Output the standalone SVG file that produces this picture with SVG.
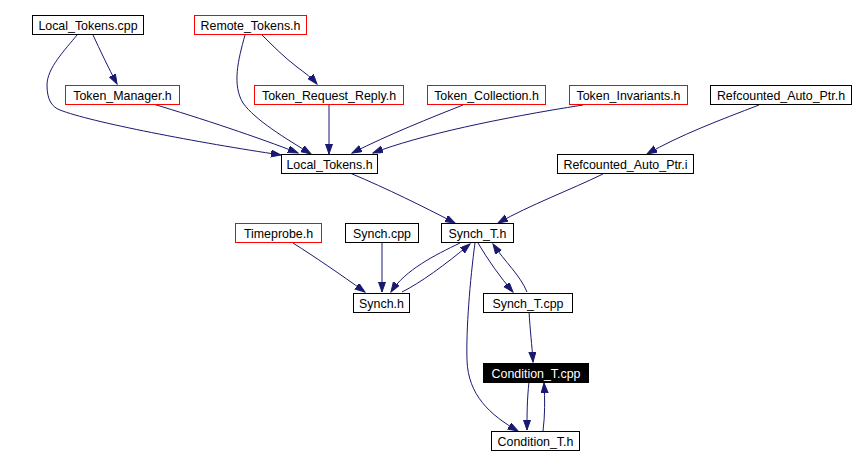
<svg xmlns="http://www.w3.org/2000/svg" width="865" height="465" viewBox="0 0 865 465">
<style>
.n rect{fill:#fff;stroke:#000;stroke-width:1}
.n.r rect{stroke:#ff0000}
.n.b rect{fill:#000}
.n text{font-family:"Liberation Sans",Arial,Helvetica,sans-serif;font-size:12.4px;text-anchor:middle;fill:#000}
.n.b text{fill:#fff}
#edges path{fill:none;stroke:#191970;stroke-width:1;marker-end:url(#ah)}
</style>
<defs>
<marker id="ah" markerUnits="userSpaceOnUse" markerWidth="11" markerHeight="8" refX="10" refY="3.5" orient="auto">
<path d="M0,0 L10,3.5 L0,7 z" fill="#191970" stroke="#191970" stroke-width="1"/>
</marker>
</defs>
<rect width="865" height="465" fill="#fff"/>
<g id="edges">
<path d="M93,35 C100,50 108,67 117,84"/>
<path d="M77,35 C65,50 47,68 47,85 C47,100 52,107 60,110 C90,122 200,143 281,155"/>
<path d="M262,35 C272,45 285,58 297,67 C305,73 312,78 317,84"/>
<path d="M245,35 C238,60 232,85 243,103 C255,120 285,138 311,154"/>
<path d="M153,104 C200,118 260,138 298,153"/>
<path d="M329,104 L329,154"/>
<path d="M463,105 C430,118 390,134 352,153"/>
<path d="M583,105 C500,118 420,135 373,153"/>
<path d="M759,105 C720,120 680,135 647,154"/>
<path d="M350,173 C390,190 420,205 455,223"/>
<path d="M603,174 C570,190 530,205 498,223"/>
<path d="M293,243 C315,257 340,274 365,292"/>
<path d="M382,242 L382,292"/>
<path d="M460,243 C435,255 405,270 391,292"/>
<path d="M402,292 C420,283 445,265 470,244"/>
<path d="M478,243 C488,260 500,277 513,292"/>
<path d="M527,292 C520,275 505,262 493,244"/>
<path d="M475,243 C470,280 466,330 467,360 C468,395 490,415 518,431"/>
<path d="M529,311 C530,330 532,345 533,362"/>
<path d="M529,382 C527,400 527,415 527,430"/>
<path d="M543,431 C545,415 545,400 544,383"/>
</g>
<g id="n_local_tokens_cpp" class="n"><rect x="32.5" y="15.5" width="111" height="19"/><text x="88" y="29.5">Local_Tokens.cpp</text></g>
<g id="n_remote_tokens_h" class="n r"><rect x="194.5" y="15.5" width="112" height="19"/><text x="250.5" y="29.5">Remote_Tokens.h</text></g>
<g id="n_token_manager_h" class="n r"><rect x="65.5" y="85.5" width="114" height="19"/><text x="122.5" y="99.5">Token_Manager.h</text></g>
<g id="n_token_request_reply_h" class="n r"><rect x="254.5" y="85.5" width="149" height="19"/><text x="329" y="99.5">Token_Request_Reply.h</text></g>
<g id="n_token_collection_h" class="n r"><rect x="427.5" y="85.5" width="118" height="19"/><text x="486.5" y="99.5">Token_Collection.h</text></g>
<g id="n_token_invariants_h" class="n r"><rect x="569.5" y="85.5" width="118" height="19"/><text x="628.5" y="99.5">Token_Invariants.h</text></g>
<g id="n_refcounted_auto_ptr_h" class="n"><rect x="710.5" y="85.5" width="141" height="19"/><text x="781" y="99.5">Refcounted_Auto_Ptr.h</text></g>
<g id="n_local_tokens_h" class="n"><rect x="281.5" y="154.5" width="96" height="19"/><text x="329.5" y="168.5">Local_Tokens.h</text></g>
<g id="n_refcounted_auto_ptr_i" class="n"><rect x="557.5" y="154.5" width="136" height="19"/><text x="625.5" y="168.5">Refcounted_Auto_Ptr.i</text></g>
<g id="n_timeprobe_h" class="n r"><rect x="235.5" y="223.5" width="86" height="19"/><text x="278.5" y="237.5">Timeprobe.h</text></g>
<g id="n_synch_cpp" class="n"><rect x="345.5" y="223.5" width="73" height="19"/><text x="382" y="237.5">Synch.cpp</text></g>
<g id="n_synch_t_h" class="n"><rect x="441.5" y="223.5" width="72" height="19"/><text x="477.5" y="237.5">Synch_T.h</text></g>
<g id="n_synch_h" class="n"><rect x="353.5" y="293.5" width="56" height="19"/><text x="381.5" y="307.5">Synch.h</text></g>
<g id="n_synch_t_cpp" class="n"><rect x="483.5" y="293.5" width="89" height="19"/><text x="528" y="307.5">Synch_T.cpp</text></g>
<g id="n_condition_t_cpp" class="n b"><rect x="483.5" y="363.5" width="105" height="19"/><text x="536" y="377.5">Condition_T.cpp</text></g>
<g id="n_condition_t_h" class="n"><rect x="491.5" y="431.5" width="88" height="19"/><text x="535.5" y="445.5">Condition_T.h</text></g>
</svg>
